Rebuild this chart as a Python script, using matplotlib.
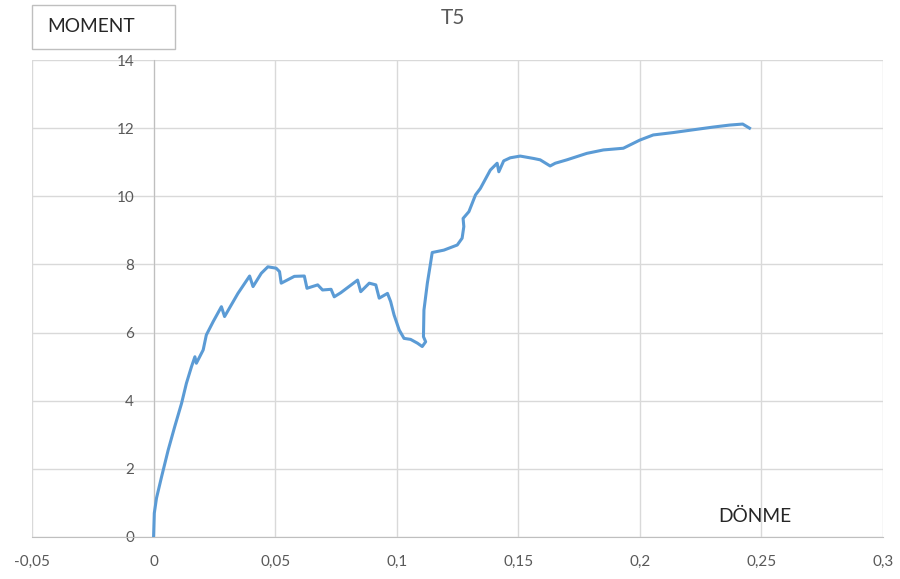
import matplotlib.pyplot as plt
from matplotlib.patches import Rectangle
from matplotlib.ticker import FuncFormatter

plt.rcParams['font.family'] = ['Lato', 'DejaVu Sans']

# rotation (DÖNME) vs moment
donme = [0, 0.0003, 0.0012, 0.0033, 0.006, 0.0087, 0.0115, 0.0135, 0.0156, 0.017,
         0.0176, 0.0204, 0.0217, 0.0245, 0.0279, 0.0292, 0.0347, 0.0395, 0.0409, 0.0443,
         0.047, 0.0504, 0.0518, 0.0525, 0.0579, 0.062, 0.0631, 0.0675, 0.0695, 0.073,
         0.0743, 0.077, 0.0839, 0.0852, 0.0887, 0.0914, 0.0928, 0.0962, 0.0975, 0.0989,
         0.101, 0.103, 0.1057, 0.1085, 0.1105, 0.1119, 0.111, 0.1112, 0.1126, 0.1139,
         0.1146, 0.1194, 0.1249, 0.1269, 0.1276, 0.1273, 0.1297, 0.1324, 0.1344, 0.1385,
         0.1413, 0.142, 0.144, 0.1467, 0.1508, 0.1563, 0.159, 0.1631, 0.1652, 0.17,
         0.1782, 0.185, 0.1932, 0.2, 0.2055, 0.2137, 0.2218, 0.23, 0.2369, 0.2423, 0.2451]
moment = [0, 0.7, 1.14, 1.77, 2.55, 3.24, 3.92, 4.51, 5.0, 5.29,
          5.1, 5.49, 5.93, 6.32, 6.76, 6.47, 7.15, 7.66, 7.35, 7.74,
          7.93, 7.89, 7.79, 7.45, 7.65, 7.66, 7.30, 7.40, 7.25, 7.27,
          7.05, 7.17, 7.54, 7.20, 7.45, 7.40, 7.01, 7.15, 6.91, 6.52,
          6.08, 5.83, 5.80, 5.69, 5.59, 5.73, 5.88, 6.66, 7.45, 8.03,
          8.35, 8.42, 8.57, 8.77, 9.11, 9.35, 9.55, 10.04, 10.23, 10.77,
          10.97, 10.72, 11.04, 11.13, 11.18, 11.11, 11.07, 10.89, 10.97, 11.07,
          11.26, 11.36, 11.41, 11.65, 11.80, 11.87, 11.95, 12.03, 12.09, 12.12, 12.0]

x_ticks = [-0.05, 0, 0.05, 0.1, 0.15, 0.2, 0.25, 0.3]
y_ticks = [0, 2, 4, 6, 8, 10, 12, 14]

fig = plt.figure(figsize=(9, 5.79), dpi=100)
ax = fig.add_axes([32 / 900, 42 / 579, 851 / 900, 477 / 579])

ax.plot(donme, moment, color='#5B9BD5', lw=2.2, solid_joinstyle='round', zorder=3)

ax.set_xlim(-0.05, 0.3)
ax.set_ylim(0, 14)
ax.set_xticks(x_ticks)
ax.set_yticks(y_ticks)
ax.xaxis.set_major_formatter(FuncFormatter(lambda v, p: ('%g' % v).replace('.', ',')))
ax.grid(True, color='#D9D9D9', lw=1)
ax.set_axisbelow(True)

for s in ['top', 'right']:
    ax.spines[s].set_visible(False)
ax.spines['left'].set_position(('data', 0))
ax.spines['left'].set_color('#BFBFBF')
ax.spines['bottom'].set_color('#BFBFBF')
ax.spines['left'].set_zorder(2)
ax.tick_params(axis='both', length=0, colors='#595959', labelsize=11)
ax.tick_params(axis='y', pad=14)
ax.tick_params(axis='x', pad=13)

fig.text(453 / 900, 1 - 18 / 579, 'T5', ha='center', va='center', fontsize=15, color='#595959')

fig.patches.append(Rectangle((32 / 900, 1 - 49 / 579), 143 / 900, 44 / 579,
                             transform=fig.transFigure, fill=False, edgecolor='#BFBFBF', lw=1))
fig.text(47 / 900, 1 - 27 / 579, 'MOMENT', ha='left', va='center', fontsize=13.8, color='#262626')
fig.text(755 / 900, 1 - 516 / 579, 'DÖNME', ha='center', va='center', fontsize=13.8, color='#262626')

fig.savefig('out.png', dpi=100)
